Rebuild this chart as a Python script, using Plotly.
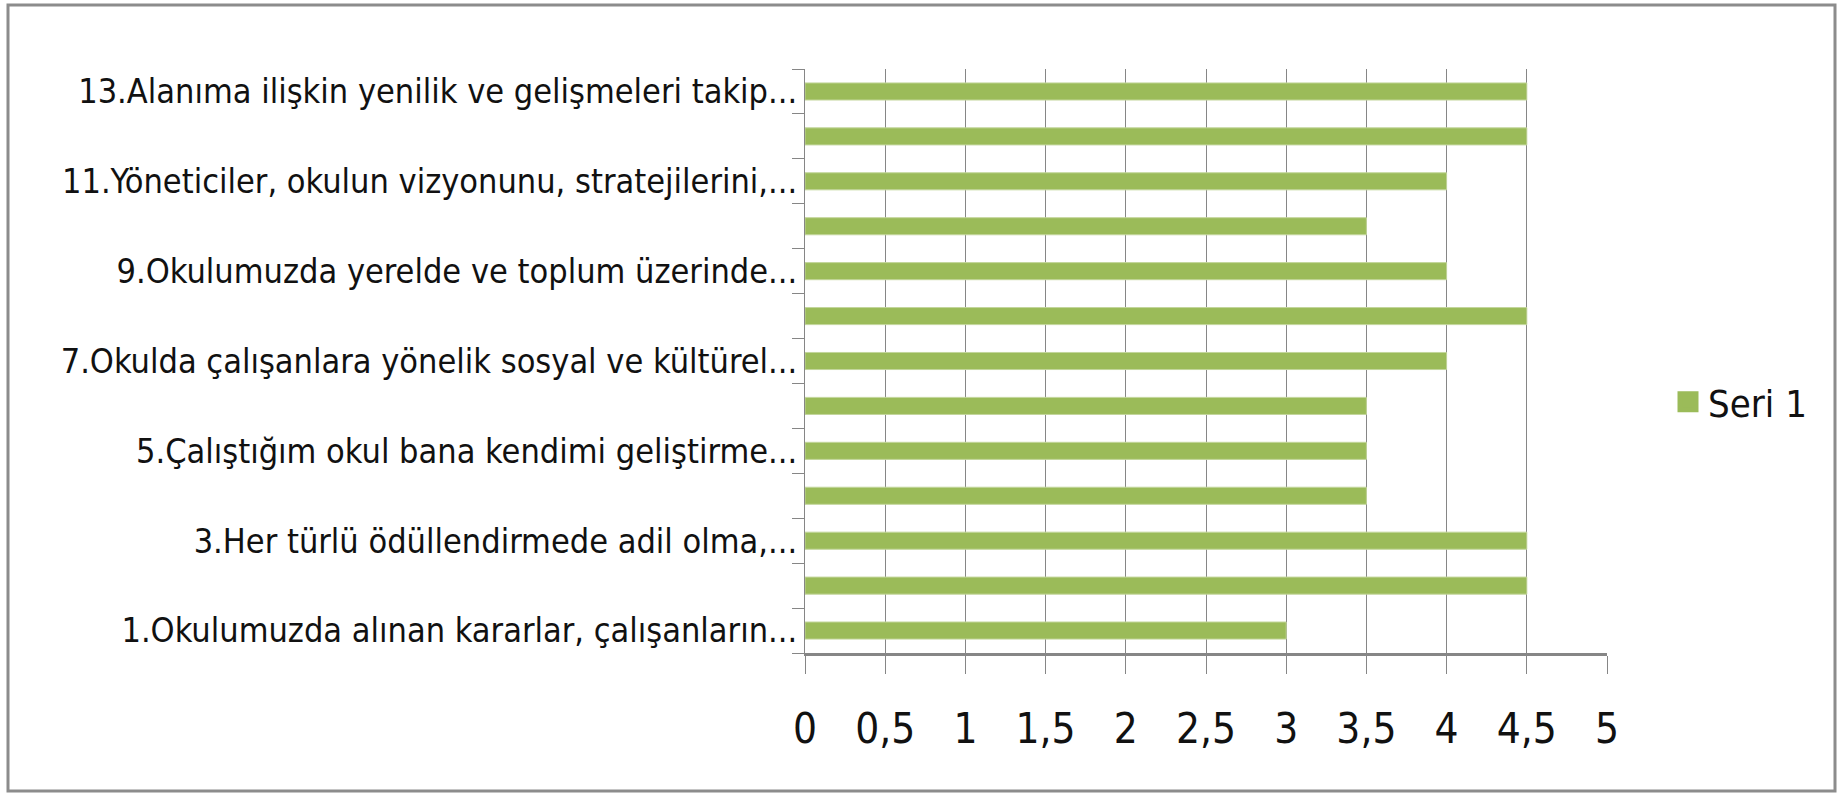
import plotly.graph_objects as go

item_numbers = list(range(1, 14))
values = [3, 4.5, 4.5, 3.5, 3.5, 3.5, 4, 4.5, 4, 3.5, 4, 4.5, 4.5]
label_positions = [1, 3, 5, 7, 9, 11, 13]
label_texts = [
    "1.Okulumuzda alınan kararlar, çalışanların...",
    "3.Her türlü ödüllendirmede adil olma,...",
    "5.Çalıştığım okul bana kendimi geliştirme...",
    "7.Okulda çalışanlara yönelik sosyal ve kültürel...",
    "9.Okulumuzda yerelde ve toplum üzerinde...",
    "11.Yöneticiler, okulun vizyonunu, stratejilerini,...",
    "13.Alanıma ilişkin yenilik ve gelişmeleri takip...",
]
x_ticks = [0, 0.5, 1, 1.5, 2, 2.5, 3, 3.5, 4, 4.5, 5]
x_tick_labels = ["0", "0,5", "1", "1,5", "2", "2,5", "3", "3,5", "4", "4,5", "5"]
series_name = "Seri 1"

FONT = "DejaVu Sans Condensed, Liberation Sans Narrow, sans-serif"
GRID = "#868686"
GREEN = "#9BBB59"

L, R, T, B = 805, 1607, 69, 653
W, H = 1841, 795

fig = go.Figure()
fig.add_trace(
    go.Bar(
        x=values,
        y=item_numbers,
        orientation="h",
        name=series_name,
        marker=dict(color=GREEN, line=dict(color="#C3D69B", width=1)),
        width=0.38,
        showlegend=False,
    )
)
# legend entry with a larger square swatch
fig.add_trace(
    go.Scatter(
        x=[None], y=[None], mode="markers", name=series_name,
        marker=dict(symbol="square", size=26, color=GREEN,
                    line=dict(color=GREEN, width=5)),
        showlegend=True, hoverinfo="skip",
    )
)

fig.update_layout(
    width=W,
    height=H,
    margin=dict(l=L, r=W - R, t=T, b=H - B, autoexpand=False),
    paper_bgcolor="white",
    plot_bgcolor="white",
    font=dict(family=FONT, color="#111111"),
    showlegend=True,
    legend=dict(
        x=(1668 - L) / (R - L), y=(B - 402) / (B - T),
        xanchor="left", yanchor="middle",
        font=dict(size=38, family=FONT),
        itemwidth=30, itemsizing="trace",
        bgcolor="rgba(0,0,0,0)",
    ),
    shapes=[
        dict(
            type="rect", xref="paper", yref="paper",
            x0=(8 - L) / (R - L), x1=(1835 - L) / (R - L),
            y0=(B - 791) / (B - T), y1=(B - 5) / (B - T),
            line=dict(color="#8c8c8c", width=3),
            layer="below",
        )
    ],
)

fig.update_xaxes(
    range=[0, 5],
    tickvals=x_ticks,
    ticktext=x_tick_labels,
    tickfont=dict(size=42, family=FONT),
    showgrid=True, gridcolor=GRID, gridwidth=1,
    showline=True, linecolor=GRID, linewidth=3,
    ticks="outside", ticklen=18, tickcolor=GRID, tickwidth=1,
    ticklabelstandoff=19,
    zeroline=False,
)

fig.update_yaxes(
    range=[0.5, 13.5],
    tickvals=label_positions,
    ticktext=label_texts,
    tickfont=dict(size=34, family=FONT),
    showgrid=False,
    showline=True, linecolor=GRID, linewidth=1,
    ticks="outside", ticklen=0, tickcolor=GRID,
    minor=dict(
        tickvals=[i + 0.5 for i in range(0, 14)],
        ticks="outside", ticklen=12, tickcolor=GRID, tickwidth=1,
        showgrid=False,
    ),
    zeroline=False,
)

fig.write_html(
    "out.html",
    config={"displayModeBar": False},
    post_script="document.body.style.margin='0';document.body.style.overflow='hidden';",
)
